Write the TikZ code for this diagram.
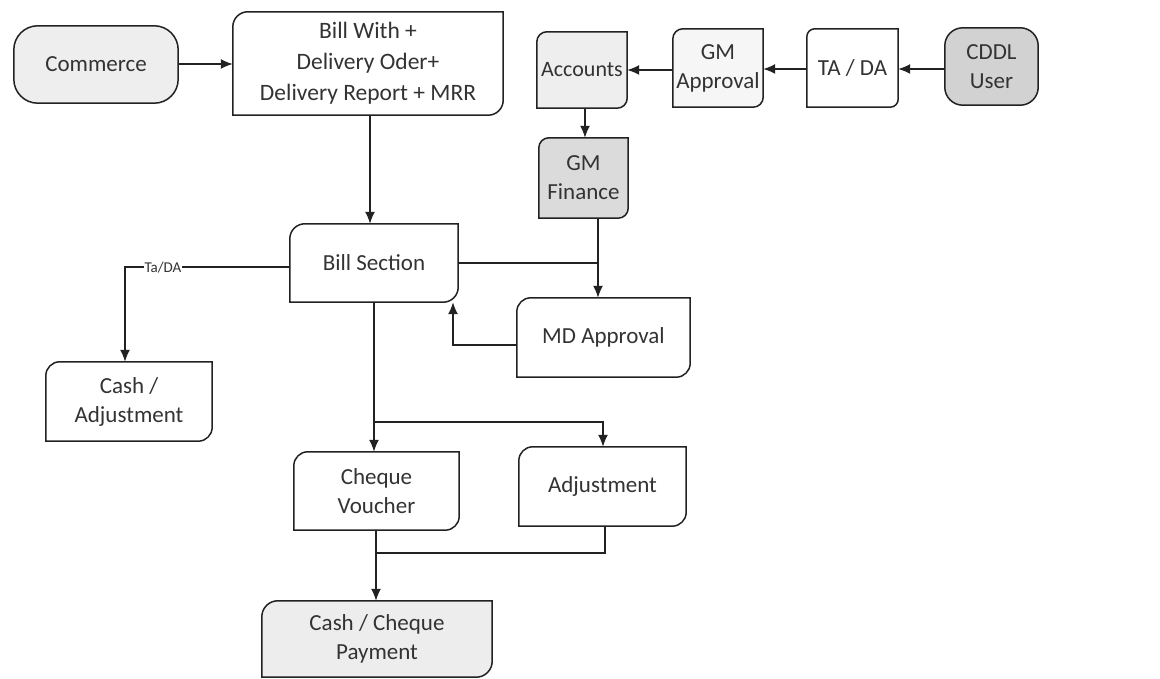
\documentclass[tikz,border=0pt]{standalone}
\usepackage{fontspec}
\setmainfont{Carlito}
\usetikzlibrary{arrows.meta,backgrounds}
\definecolor{ink}{HTML}{222222}
\definecolor{txt}{HTML}{333333}
\newcommand\dbox[3]{%
  \filldraw[boxline,fill=#3] ([xshift=#2]#1.north west) -- (#1.north east) -- ([yshift=#2]#1.south east) arc[start angle=0,end angle=-90,radius=#2] -- (#1.south west) -- ([yshift=-#2]#1.north west) arc[start angle=180,end angle=90,radius=#2] -- cycle;}
\newcommand\rbox[3]{%
  \filldraw[boxline,fill=#3,rounded corners=#2] (#1.south west) rectangle (#1.north east);}
\tikzset{
  boxline/.style={draw=ink,line width=1.5pt},
  nd/.style={inner sep=0pt,align=center,text=txt,font=\fontsize{23}{29}\selectfont},
  arr/.style={draw=ink,line width=1.5pt,-{Latex[length=12pt,width=10pt]}},
  ln/.style={draw=ink,line width=1.5pt},
}
\begin{document}
\begin{tikzpicture}[x=1pt,y=1pt]
\useasboundingbox (0,0) rectangle (1160,679);
% nodes
\node[nd,minimum width=164pt,minimum height=77pt] (com) at (96,614.5) {Commerce};
\node[nd,minimum width=270pt,minimum height=103pt,font=\fontsize{23.5}{31}\selectfont] (bill) at (368,615.5) {Bill With +\\Delivery Oder+\\Delivery Report + MRR};
\node[nd,minimum width=90pt,minimum height=76pt,font=\fontsize{22}{27}\selectfont] (acc) at (582,609) {Accounts};
\node[nd,minimum width=90pt,minimum height=78pt] (gma) at (718,611) {GM\\Approval};
\node[nd,minimum width=91pt,minimum height=78pt] (tada) at (852.5,611) {TA / DA};
\node[nd,minimum width=93pt,minimum height=77pt] (cddl) at (991.5,612.5) {CDDL\\User};
\node[nd,minimum width=89pt,minimum height=80pt] (gmf) at (583.5,501) {GM\\Finance};
\node[nd,minimum width=168pt,minimum height=78pt] (bs) at (374,416) {Bill Section};
\node[nd,minimum width=173pt,minimum height=79pt] (md) at (603.5,341.5) {MD Approval};
\node[nd,minimum width=166pt,minimum height=79pt] (ca) at (129,277.5) {Cash /\\Adjustment};
\node[nd,minimum width=165pt,minimum height=78pt] (cv) at (376.5,188) {Cheque\\Voucher};
\node[nd,minimum width=167pt,minimum height=79pt] (adj) at (602.5,192.5) {Adjustment};
\node[nd,minimum width=230pt,minimum height=76pt] (pay) at (377,40) {Cash / Cheque\\Payment};
% boxes
\begin{scope}[on background layer]
\rbox{com}{24pt}{gray!13}
\dbox{bill}{15pt}{white}
\dbox{acc}{10pt}{gray!13}
\dbox{gma}{10pt}{gray!7}
\dbox{tada}{8pt}{white}
\rbox{cddl}{18pt}{gray!35}
\dbox{gmf}{10pt}{gray!28}
\dbox{bs}{15pt}{white}
\dbox{md}{14pt}{white}
\dbox{ca}{14pt}{white}
\dbox{cv}{14pt}{white}
\dbox{adj}{14pt}{white}
\dbox{pay}{16pt}{gray!14}
\end{scope}
% junction coordinates
\coordinate (jr) at (598,416);
\coordinate (jmd) at (453,334);
\coordinate (jl) at (125,412);
\coordinate (jb) at (374,257);
\coordinate (jbr) at (603,257);
\coordinate (ja) at (605,126);
\coordinate (jc) at (376,126);
% connectors
\draw[arr] (com.east |- 0,615) -- (bill.west |- 0,615);
\draw[arr] (bill.south -| 370,0) -- (bs.north -| 370,0);
\draw[arr] (cddl.west |- 0,610) -- (tada.east |- 0,610);
\draw[arr] (tada.west |- 0,610) -- (gma.east |- 0,610);
\draw[arr] (gma.west |- 0,609) -- (acc.east |- 0,609);
\draw[arr] (acc.south -| 585,0) -- (gmf.north -| 585,0);
\draw[arr] (gmf.south -| jr) -- (md.north -| jr);
\draw[ln] (bs.east |- jr) -- (jr);
\draw[arr] (md.west |- jmd) -- (jmd) -- (bs.south -| jmd);
\draw[arr] (bs.west |- jl) -- (jl) -- (ca.north -| jl);
\node[fill=white,inner sep=1pt,text=txt,font=\fontsize{15}{15}\selectfont] (lbl) at (163,411) {Ta/DA};
\draw[arr] (bs.south -| jb) -- (cv.north -| jb);
\draw[arr] (jb) -- (jbr) -- (adj.north -| jbr);
\draw[arr] (cv.south -| jc) -- (pay.north -| jc);
\draw[ln] (adj.south -| ja) -- (ja) -- (jc);
\end{tikzpicture}
\end{document}
